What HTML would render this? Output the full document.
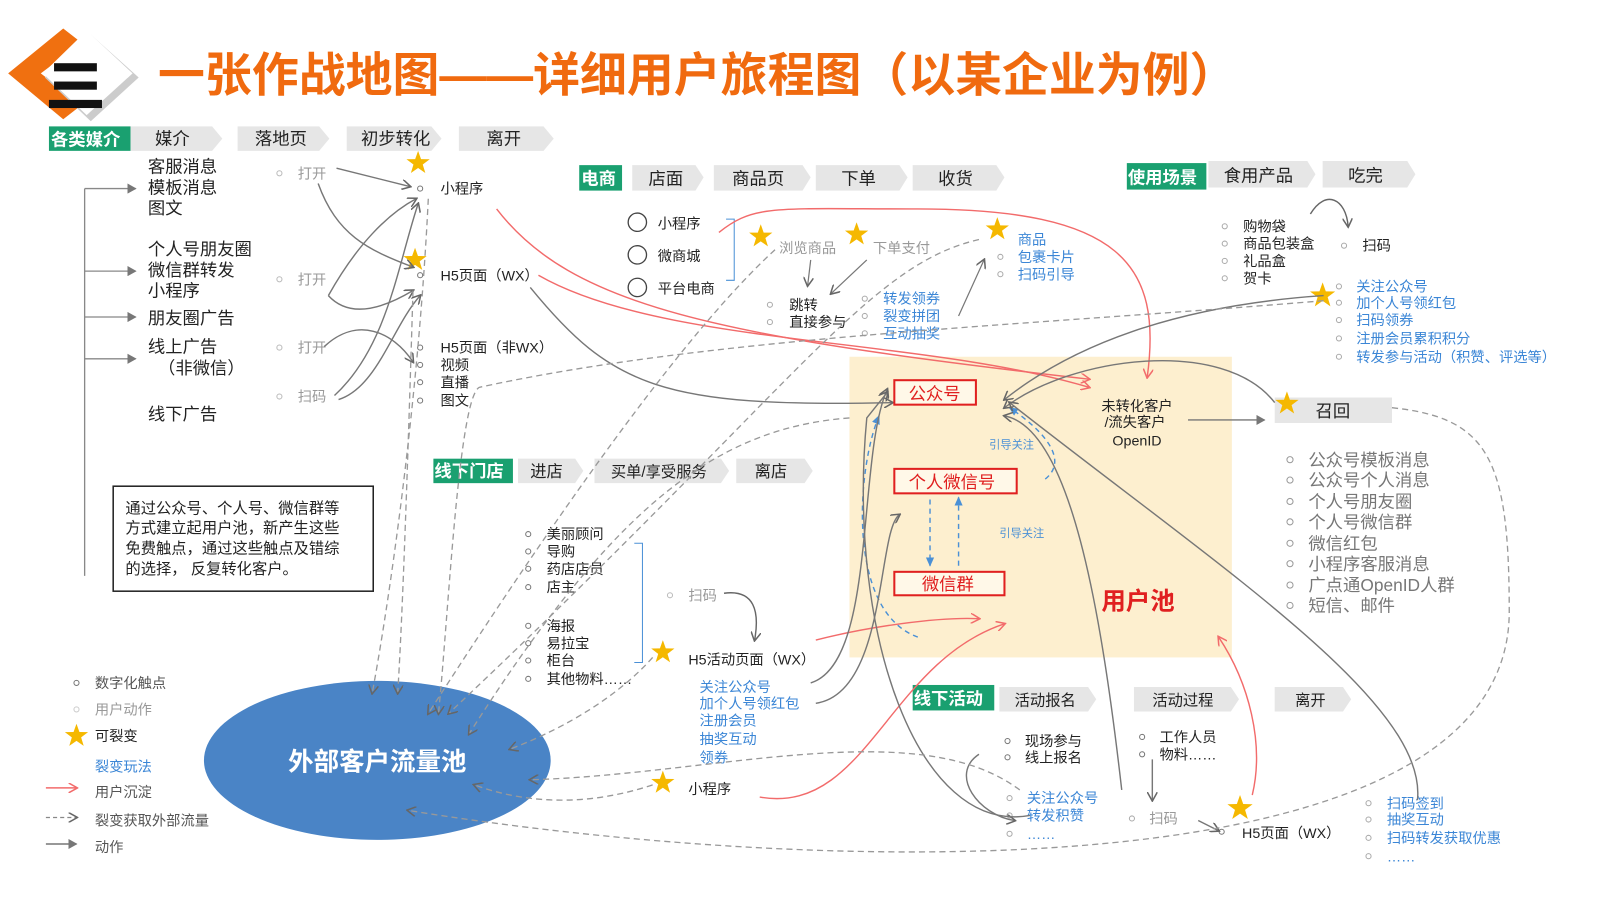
<!DOCTYPE html>
<html><head><meta charset="utf-8"><style>
html,body{margin:0;padding:0;background:#fff;}
svg{display:block;font-family:"Liberation Sans","Noto Sans CJK SC",sans-serif;}
.t{font-size:15px;fill:#222}
.l{font-size:14px;fill:#999}
.b{font-size:14px;fill:#3b86d6}
.h{font-size:17px;fill:#222}
.g{font-size:17px;fill:#fff;font-weight:bold}
.r{font-size:17px;fill:#777}
</style></head><body>
<svg width="1600" height="898" viewBox="0 0 1569 881" preserveAspectRatio="none" xmlns="http://www.w3.org/2000/svg">
<defs>
<marker id="ag" markerWidth="10" markerHeight="10" refX="8" refY="5" orient="auto" markerUnits="userSpaceOnUse"><path d="M0,0 L9,5 L0,10" fill="none" stroke="#666" stroke-width="1.5"/></marker>
<marker id="ar" markerWidth="10" markerHeight="10" refX="8" refY="5" orient="auto" markerUnits="userSpaceOnUse"><path d="M0,0 L9,5 L0,10" fill="none" stroke="#f26b6b" stroke-width="1.5"/></marker>
<marker id="ab" markerWidth="10" markerHeight="10" refX="8" refY="5" orient="auto" markerUnits="userSpaceOnUse"><path d="M0,1 L9,5 L0,9 Z" fill="#4a90d6"/></marker>
<marker id="af" markerWidth="10" markerHeight="10" refX="8" refY="5" orient="auto" markerUnits="userSpaceOnUse"><path d="M0,0 L9,5 L0,10 Z" fill="#777"/></marker>
<symbol id="star" viewBox="-10 -10 20 20"><polygon points="0,-10 2.4,-3.2 9.5,-3.1 3.8,1.2 5.9,8.1 0,4 -5.9,8.1 -3.8,1.2 -9.5,-3.1 -2.4,-3.2" fill="#f5b800"/></symbol>
</defs>

<rect x="833" y="350" width="375" height="295" fill="#fdefcf"/>

<polygon points="62,28 8,72 62,117 80,103 40,72 80,42" fill="#f07010"/>
<polygon points="85,30 132,72 85,115 40,72" fill="#ccc" transform="translate(4,4)"/>
<polygon points="85,30 130,72 85,113 42,72" fill="#fff"/>
<rect x="53" y="62" width="42" height="8" fill="#111"/><rect x="53" y="80" width="42" height="8" fill="#111"/><rect x="48" y="98" width="52" height="8" fill="#111"/>
<text x="155" y="90" style="font-size:46px;font-weight:bold;fill:#f06a0f">一张作战地图——详细用户旅程图（以某企业为例）</text>

<g>
<rect x="48" y="124" width="80" height="24" fill="#1aa070"/><text x="50" y="143" class="g">各类媒介</text>
<path d="M128,124h80l10,12l-10,12h-80z" fill="#e6e6e6"/><text x="152" y="142" class="h">媒介</text>
<path d="M233,124h80l10,12l-10,12h-80z" fill="#e6e6e6"/><text x="250" y="142" class="h">落地页</text>
<path d="M340,124h83l10,12l-10,12h-83z" fill="#e6e6e6"/><text x="354" y="142" class="h">初步转化</text>
<path d="M450,124h83l10,12l-10,12h-83z" fill="#e6e6e6"/><text x="477" y="142" class="h">离开</text>

<rect x="568" y="162" width="42" height="25" fill="#1aa070"/><text x="570" y="181" class="g">电商</text>
<path d="M620,162h62l8,12l-8,13h-62z" fill="#e6e6e6"/><text x="636" y="181" class="h">店面</text>
<path d="M700,162h87l8,12l-8,13h-87z" fill="#e6e6e6"/><text x="718" y="181" class="h">商品页</text>
<path d="M800,162h82l8,12l-8,13h-82z" fill="#e6e6e6"/><text x="825" y="181" class="h">下单</text>
<path d="M895,162h82l8,12l-8,13h-82z" fill="#e6e6e6"/><text x="920" y="181" class="h">收货</text>

<rect x="1105" y="160" width="78" height="26" fill="#1aa070"/><text x="1106" y="180" class="g">使用场景</text>
<path d="M1185,158h97l8,13l-8,13h-97z" fill="#e6e6e6"/><text x="1200" y="178" class="h">食用产品</text>
<path d="M1297,158h83l8,13l-8,13h-83z" fill="#e6e6e6"/><text x="1322" y="178" class="h">吃完</text>

<rect x="425" y="450" width="78" height="24" fill="#1aa070"/><text x="426" y="468" class="g">线下门店</text>
<path d="M508,450h56l8,12l-8,12h-56z" fill="#e6e6e6"/><text x="520" y="468" class="t" style="font-size:16px">进店</text>
<path d="M583,450h124l8,12l-8,12h-124z" fill="#e6e6e6"/><text x="599" y="468" class="t">买单/享受服务</text>
<path d="M722,450h67l8,12l-8,12h-67z" fill="#e6e6e6"/><text x="740" y="468" class="t" style="font-size:16px">离店</text>

<rect x="895" y="672" width="80" height="25" fill="#1aa070"/><text x="896" y="691" class="g">线下活动</text>
<path d="M980,674h87l8,12l-8,12h-87z" fill="#e6e6e6"/><text x="995" y="692" class="t">活动报名</text>
<path d="M1112,674h95l8,12l-8,12h-95z" fill="#e6e6e6"/><text x="1130" y="692" class="t">活动过程</text>
<path d="M1250,674h67l8,12l-8,12h-67z" fill="#e6e6e6"/><text x="1270" y="692" class="t">离开</text>
</g>

<g>
<text x="145" y="169" class="h">客服消息</text><text x="145" y="190" class="h">模板消息</text><text x="145" y="210" class="h">图文</text>
<text x="145" y="250" class="h">个人号朋友圈</text><text x="145" y="271" class="h">微信群转发</text><text x="145" y="291" class="h">小程序</text>
<text x="145" y="318" class="h">朋友圈广告</text>
<text x="145" y="346" class="h">线上广告</text><text x="155" y="367" class="h">（非微信）</text>
<text x="145" y="412" class="h">线下广告</text>
</g>
<path d="M83,185V565" stroke="#888" stroke-width="1.3" fill="none"/>
<g stroke="#888" stroke-width="1.3" marker-end="url(#af)"><path d="M83,185H133"/><path d="M83,266H133"/><path d="M83,311H133"/><path d="M83,352H133"/></g>
<rect x="111" y="477" width="255" height="103" fill="#fff" stroke="#222" stroke-width="1.5"/>
<g class="t"><text x="123" y="504">通过公众号、个人号、微信群等</text><text x="123" y="523">方式建立起用户池，新产生这些</text><text x="123" y="543">免费触点，通过这些触点及错综</text><text x="123" y="563">的选择， 反复转化客户。</text></g>

<g fill="none" stroke="#bbb"><circle cx="274" cy="170" r="2.5"/><circle cx="274" cy="274" r="2.5"/><circle cx="274" cy="341" r="2.5"/><circle cx="274" cy="389" r="2.5"/></g>
<g class="l"><text x="292" y="175">打开</text><text x="292" y="279">打开</text><text x="292" y="346">打开</text><text x="292" y="394">扫码</text></g>
<g fill="none" stroke="#777"><circle cx="412" cy="185" r="2.5"/><circle cx="412" cy="270" r="2.5"/><circle cx="412" cy="341" r="2.5"/><circle cx="412" cy="358" r="2.5"/><circle cx="412" cy="375" r="2.5"/><circle cx="412" cy="393" r="2.5"/></g>
<g class="t" style="font-size:14px"><text x="432" y="190">小程序</text><text x="432" y="275">H5页面（WX）</text><text x="432" y="346">H5页面（非WX）</text><text x="432" y="363">视频</text><text x="432" y="380">直播</text><text x="432" y="398">图文</text></g>
<use href="#star" x="398" y="148" width="24" height="24"/><use href="#star" x="395" y="243" width="24" height="24"/>

<g fill="none" stroke="#777" stroke-width="1.4" marker-end="url(#ag)">
<path d="M330,165 L402,183"/>
<path d="M312,180 C330,230 360,245 405,262"/>
<path d="M322,290 C350,240 380,210 408,195"/>
<path d="M322,290 C345,315 380,300 405,285"/>
<path d="M318,340 C350,310 385,325 405,355"/>
<path d="M328,388 C380,340 390,260 410,200"/>
<path d="M332,392 C370,380 385,320 412,290"/>
<path d="M520,282 C600,380 650,400 875,395"/>
</g>

<g fill="none" stroke="#444" stroke-width="1.3"><circle cx="625" cy="218" r="9"/><circle cx="625" cy="250" r="9"/><circle cx="625" cy="282" r="9"/></g>
<g class="t" style="font-size:14px"><text x="645" y="224">小程序</text><text x="645" y="256">微商城</text><text x="645" y="288">平台电商</text></g>
<path d="M712,215h8v60h-8" fill="none" stroke="#4a90d6"/>
<use href="#star" x="734" y="220" width="24" height="24"/><use href="#star" x="828" y="218" width="24" height="24"/><use href="#star" x="966" y="213" width="24" height="24"/>
<g class="l"><text x="764" y="248">浏览商品</text><text x="856" y="248">下单支付</text></g>
<g class="b"><text x="998" y="240">商品</text><text x="998" y="257">包裹卡片</text><text x="998" y="274">扫码引导</text></g>
<g fill="none" stroke="#aaa"><circle cx="755" cy="299" r="2.5"/><circle cx="755" cy="316" r="2.5"/><circle cx="848" cy="293" r="2.5"/><circle cx="848" cy="310" r="2.5"/><circle cx="848" cy="327" r="2.5"/><circle cx="981" cy="252" r="2.5"/><circle cx="981" cy="269" r="2.5"/></g>
<g class="t" style="font-size:14px"><text x="774" y="304">跳转</text><text x="774" y="321">直接参与</text></g>
<g class="b"><text x="866" y="298">转发领券</text><text x="866" y="315">裂变拼团</text><text x="866" y="332">互动抽奖</text></g>
<g fill="none" stroke="#777" stroke-width="1.2" marker-end="url(#ag)">
<path d="M795,255 L792,280"/><path d="M850,255 L815,288"/><path d="M940,310 L965,255"/>
</g>

<g fill="none" stroke="#aaa"><circle cx="1201" cy="222" r="2.5"/><circle cx="1201" cy="239" r="2.5"/><circle cx="1201" cy="256" r="2.5"/><circle cx="1201" cy="273" r="2.5"/><circle cx="1318" cy="241" r="2.5"/><circle cx="1313" cy="281" r="2.5"/><circle cx="1313" cy="297" r="2.5"/><circle cx="1313" cy="314" r="2.5"/><circle cx="1313" cy="332" r="2.5"/><circle cx="1313" cy="350" r="2.5"/></g>
<g class="t" style="font-size:14px"><text x="1219" y="227">购物袋</text><text x="1219" y="244">商品包装盒</text><text x="1219" y="261">礼品盒</text><text x="1219" y="278">贺卡</text><text x="1336" y="246">扫码</text></g>
<path d="M1285,210 C1300,185 1320,195 1322,222" fill="none" stroke="#666" stroke-width="1.4" marker-end="url(#ag)"/>
<use href="#star" x="1284" y="277" width="26" height="26"/>
<g class="b"><text x="1330" y="286">关注公众号</text><text x="1330" y="302">加个人号领红包</text><text x="1330" y="319">扫码领券</text><text x="1330" y="337">注册会员累积积分</text><text x="1330" y="355">转发参与活动（积赞、评选等）</text></g>

<rect x="877" y="373" width="80" height="24" fill="#fff8e8" stroke="#e02020" stroke-width="2"/><text x="891" y="392" style="font-size:17px;fill:#e02020">公众号</text>
<rect x="877" y="460" width="120" height="24" fill="#fff8e8" stroke="#e02020" stroke-width="2"/><text x="891" y="479" style="font-size:17px;fill:#e02020">个人微信号</text>
<rect x="877" y="561" width="108" height="23" fill="#fff8e8" stroke="#e02020" stroke-width="2"/><text x="904" y="579" style="font-size:17px;fill:#e02020">微信群</text>
<text x="970" y="440" style="font-size:11px;fill:#4a90d6">引导关注</text>
<text x="980" y="527" style="font-size:11px;fill:#4a90d6">引导关注</text>
<text x="1080" y="598" style="font-size:24px;font-weight:bold;fill:#e02020">用户池</text>
<g class="t" style="font-size:14px" text-anchor="middle"><text x="1115" y="403">未转化客户</text><text x="1113" y="419">/流失客户</text><text x="1115" y="437">OpenID</text></g>
<path d="M1165,412 L1240,412" stroke="#777" stroke-width="1.3" marker-end="url(#af)"/>
<g fill="none" stroke="#4a90d6" stroke-width="1.4" stroke-dasharray="5,4" marker-end="url(#ab)">
<path d="M1025,470 C1050,450 1020,420 990,400"/>
<path d="M900,625 C830,600 840,460 862,408"/>
<path d="M912,490 L912,555"/><path d="M940,555 L940,488"/>
</g>

<rect x="1250" y="390" width="115" height="25" fill="#e6e6e6"/><text x="1290" y="409" class="h">召回</text>
<use href="#star" x="1250" y="384" width="24" height="24"/>
<g fill="none" stroke="#999"><circle cx="1265" cy="451" r="3"/><circle cx="1265" cy="471" r="3"/><circle cx="1265" cy="492" r="3"/><circle cx="1265" cy="512" r="3"/><circle cx="1265" cy="533" r="3"/><circle cx="1265" cy="553" r="3"/><circle cx="1265" cy="574" r="3"/><circle cx="1265" cy="594" r="3"/></g>
<g class="r"><text x="1283" y="457">公众号模板消息</text><text x="1283" y="477">公众号个人消息</text><text x="1283" y="498">个人号朋友圈</text><text x="1283" y="518">个人号微信群</text><text x="1283" y="539">微信红包</text><text x="1283" y="559">小程序客服消息</text><text x="1283" y="580">广点通OpenID人群</text><text x="1283" y="600">短信、邮件</text></g>

<g fill="none" stroke="#777"><circle cx="518" cy="524" r="2.5"/><circle cx="518" cy="541" r="2.5"/><circle cx="518" cy="558" r="2.5"/><circle cx="518" cy="576" r="2.5"/><circle cx="518" cy="614" r="2.5"/><circle cx="518" cy="631" r="2.5"/><circle cx="518" cy="648" r="2.5"/><circle cx="518" cy="666" r="2.5"/></g>
<g class="t" style="font-size:14px"><text x="536" y="529">美丽顾问</text><text x="536" y="546">导购</text><text x="536" y="563">药店店员</text><text x="536" y="581">店主</text><text x="536" y="619">海报</text><text x="536" y="636">易拉宝</text><text x="536" y="653">柜台</text><text x="536" y="671">其他物料……</text></g>
<path d="M622,533h8v117h-8" fill="none" stroke="#4a90d6"/>
<circle cx="657" cy="584" r="2.5" fill="none" stroke="#bbb"/><text x="675" y="589" class="l">扫码</text>
<path d="M710,582 C740,578 745,600 740,628" fill="none" stroke="#666" stroke-width="1.4" marker-end="url(#ag)"/>
<use href="#star" x="638" y="628" width="24" height="24"/><text x="675" y="652" class="t" style="font-size:14px">H5活动页面（WX）</text>
<g class="b"><text x="686" y="679">关注公众号</text><text x="686" y="695">加个人号领红包</text><text x="686" y="712">注册会员</text><text x="686" y="730">抽奖互动</text><text x="686" y="748">领券</text></g>
<use href="#star" x="638" y="756" width="24" height="24"/><text x="675" y="779" class="t" style="font-size:14px">小程序</text>

<ellipse cx="370" cy="746" rx="170" ry="78" fill="#4a84c6"/>
<text x="370" y="756" text-anchor="middle" style="font-size:25px;font-weight:bold;fill:#fff">外部客户流量池</text>

<circle cx="75" cy="670" r="2.5" fill="none" stroke="#777"/><text x="93" y="675" class="t" style="font-size:14px;fill:#555">数字化触点</text>
<circle cx="75" cy="696" r="2.5" fill="none" stroke="#ccc"/><text x="93" y="701" class="l">用户动作</text>
<use href="#star" x="63" y="710" width="24" height="24"/><text x="93" y="727" class="t" style="font-size:14px">可裂变</text>
<text x="93" y="757" class="b">裂变玩法</text>
<path d="M45,773 H75" stroke="#f26b6b" stroke-width="1.5" marker-end="url(#ar)"/><text x="93" y="782" class="t" style="font-size:14px;fill:#555">用户沉淀</text>
<path d="M45,802 H75" stroke="#888" stroke-width="1.3" stroke-dasharray="4,3" marker-end="url(#ag)"/><text x="93" y="810" class="t" style="font-size:14px;fill:#555">裂变获取外部流量</text>
<path d="M45,828 H75" stroke="#777" stroke-width="1.5" marker-end="url(#af)"/><text x="93" y="836" class="t" style="font-size:14px;fill:#555">动作</text>

<g fill="none" stroke="#777"><circle cx="988" cy="727" r="2.5"/><circle cx="988" cy="743" r="2.5"/><circle cx="1120" cy="723" r="2.5"/><circle cx="1120" cy="740" r="2.5"/><circle cx="1198" cy="816" r="2.5"/></g>
<g fill="none" stroke="#aaa"><circle cx="990" cy="783" r="2.5"/><circle cx="990" cy="800" r="2.5"/><circle cx="990" cy="818" r="2.5"/><circle cx="1110" cy="803" r="2.5"/><circle cx="1342" cy="788" r="2.5"/><circle cx="1342" cy="804" r="2.5"/><circle cx="1342" cy="822" r="2.5"/><circle cx="1342" cy="840" r="2.5"/></g>
<g class="t" style="font-size:14px"><text x="1005" y="732">现场参与</text><text x="1005" y="748">线上报名</text><text x="1137" y="728">工作人员</text><text x="1137" y="745">物料……</text><text x="1218" y="822">H5页面（WX）</text></g>
<g class="b"><text x="1007" y="788">关注公众号</text><text x="1007" y="805">转发积赞</text><text x="1007" y="823">……</text><text x="1360" y="793">扫码签到</text><text x="1360" y="809">抽奖互动</text><text x="1360" y="827">扫码转发获取优惠</text><text x="1360" y="845">……</text></g>
<text x="1127" y="808" class="l">扫码</text>
<use href="#star" x="1203" y="780" width="26" height="26"/>

<g fill="none" stroke="#f26b6b" stroke-width="1.4" marker-end="url(#ar)">
<path d="M487,205 C560,300 700,330 1068,372"/>
<path d="M528,270 C650,340 900,330 1068,380"/>
<path d="M705,228 C740,200 760,205 900,205 C1100,205 1140,260 1125,370"/>
<path d="M800,628 C850,615 920,605 960,607"/>
<path d="M745,782 C850,800 870,650 985,612"/>
<path d="M1228,780 C1240,730 1225,670 1195,625"/>
</g>

<g fill="none" stroke="#777" stroke-width="1.4" marker-end="url(#ag)">
<path d="M1298,290 C1150,300 1050,340 985,392"/>
<path d="M1250,395 C1200,330 1050,350 985,400"/>
<path d="M1390,785 C1400,690 1200,560 990,395"/>
<path d="M795,670 C860,650 840,450 870,382"/>
<path d="M800,690 C870,680 860,520 882,505"/>
<path d="M1100,775 C1080,600 1050,420 985,408"/>
<path d="M960,740 C930,760 960,800 995,805"/>
<path d="M1175,805 L1195,815"/>
<path d="M1130,745 L1130,785"/>
<path d="M1010,800 C900,820 830,620 850,410 L870,385"/>
</g>

<g fill="none" stroke="#999" stroke-width="1.3" stroke-dasharray="6,4" marker-end="url(#ag)">
<path d="M420,195 C410,400 380,600 365,680"/>
<path d="M405,285 C400,450 395,600 390,680"/>
<path d="M760,245 C700,300 600,420 420,700"/>
<path d="M960,235 C850,260 780,380 440,700"/>
<path d="M1298,295 C1000,320 700,330 470,380 C450,390 440,600 430,700"/>
<path d="M833,410 C700,420 600,500 460,720"/>
<path d="M1365,400 C1460,410 1480,450 1480,600 C1480,880 800,860 400,795"/>
<path d="M640,645 C600,690 540,720 500,735"/>
<path d="M640,770 C580,790 520,790 465,770"/>
<path d="M1000,775 C900,700 700,760 520,765"/>
</g>
</svg>
</body></html>
